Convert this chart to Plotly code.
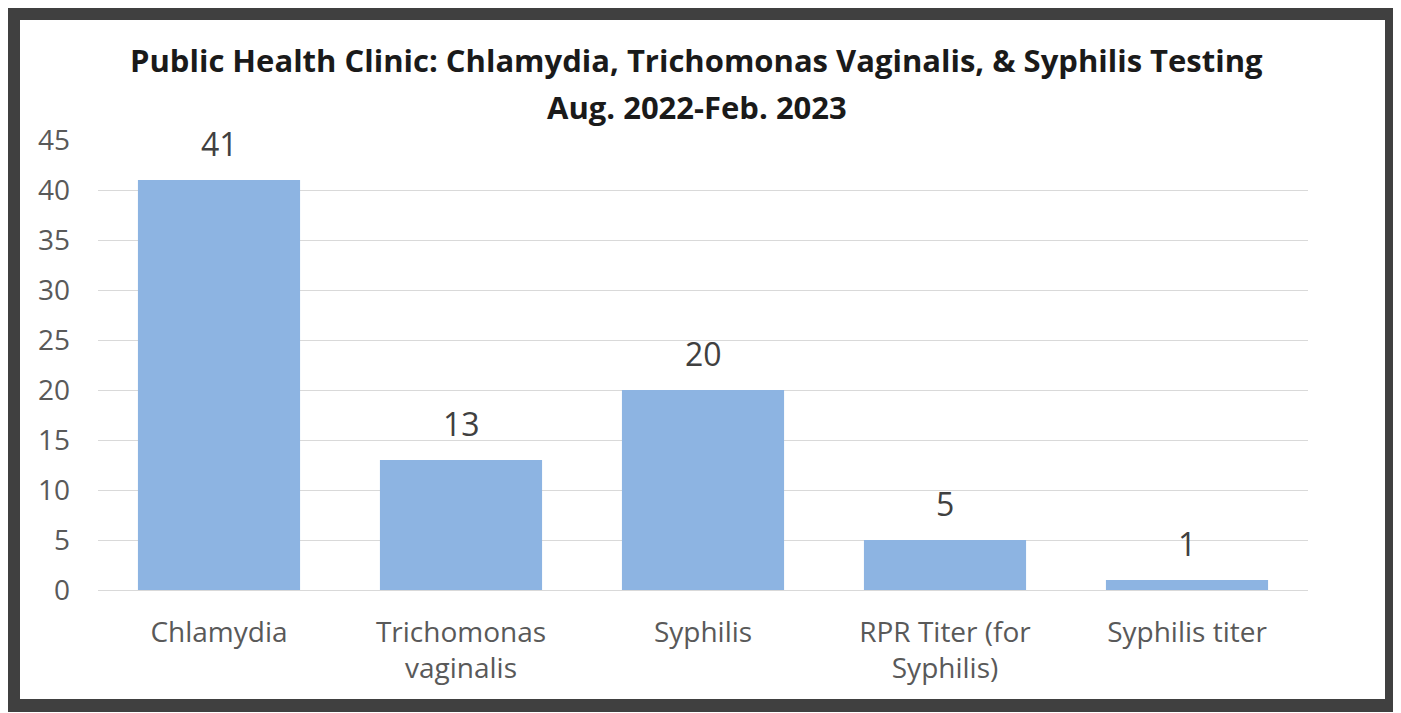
import plotly.graph_objects as go

categories = ["Chlamydia", "Trichomonas<br>vaginalis", "Syphilis", "RPR Titer (for<br>Syphilis)", "Syphilis titer"]
values = [41, 13, 20, 5, 1]
title_lines = ["Public Health Clinic: Chlamydia, Trichomonas Vaginalis, & Syphilis Testing", "Aug. 2022-Feb. 2023"]

# page is offset 8px by body margin; work in figure coordinates
W, H = 1393, 705
L, R, T, B = 90, 1300, 132, 582

def px(x):
    return (x - L) / (R - L)

def py(y):
    return (B - y) / (B - T)

fig = go.Figure(go.Bar(
    x=categories, y=values,
    marker=dict(color="#8db4e2", line=dict(width=0)),
    hoverinfo="x+y",
))

annotations = []
for c, v in zip(categories, values):
    annotations.append(dict(x=c, y=v, xref="x", yref="y", text=str(v), showarrow=False,
                            yanchor="bottom", yshift=13,
                            font=dict(family="Open Sans", size=32, color="#404040")))
title_y = [52, 99]
for t, yy in zip(title_lines, title_y):
    annotations.append(dict(x=px(688.5), y=py(yy), xref="paper", yref="paper", text="<b>" + t + "</b>",
                            showarrow=False, xanchor="center", yanchor="middle",
                            font=dict(family="Open Sans", size=31, color="#1a1a1a")))

fig.update_layout(
    width=W, height=H,
    margin=dict(l=L, r=W - R, t=T, b=H - B, pad=0),
    paper_bgcolor="white", plot_bgcolor="white",
    bargap=0.33,
    showlegend=False,
    xaxis=dict(showgrid=False, showline=False, ticks="", ticklabelstandoff=23,
               tickfont=dict(family="Open Sans", size=28, color="#595959")),
    yaxis=dict(range=[0, 45], dtick=5, showgrid=True, gridcolor="#d9d9d9", gridwidth=1,
               zeroline=True, zerolinecolor="#d9d9d9", zerolinewidth=1,
               showline=False, ticks="", ticklabelstandoff=27,
               tickfont=dict(family="Open Sans", size=28, color="#595959")),
    annotations=annotations,
    shapes=[dict(type="rect", xref="paper", yref="paper",
                 x0=px(5.5), x1=px(1383.5), y0=py(5.5), y1=py(697.5),
                 line=dict(color="#404040", width=13), fillcolor="rgba(0,0,0,0)")],
)

fig.write_html("out.html")
